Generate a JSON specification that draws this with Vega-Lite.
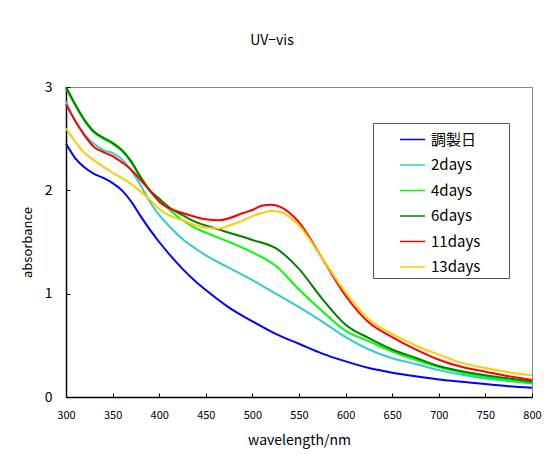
{
  "$schema": "https://vega.github.io/schema/vega-lite/v6.json",
  "width": 466,
  "height": 310,
  "autosize": "none",
  "padding": {"left": 66, "top": 87, "right": 28, "bottom": 57},
  "background": "white",
  "title": {"text": "UV−vis", "fontSize": 14, "fontWeight": "normal", "font": "Noto Sans CJK JP", "anchor": "middle", "dx": -27, "offset": 32, "color": "#000"},
  "config": {
    "view": {"stroke": "#8c8c8c", "strokeWidth": 1},
    "axis": {"grid": false, "domainColor": "#000", "domainWidth": 1.5, "tickColor": "#000", "tickWidth": 1, "labelColor": "#000", "titleColor": "#000", "labelFont": "Noto Sans CJK JP", "titleFont": "Noto Sans CJK JP", "titleFontWeight": "normal", "labelFlush": false, "labelOverlap": false}
  },
  "data": {"values": [
    {"wl":300,"s":"調製日","a":2.45},{"wl":310,"s":"調製日","a":2.31},{"wl":320,"s":"調製日","a":2.22},{"wl":330,"s":"調製日","a":2.16},{"wl":340,"s":"調製日","a":2.12},{"wl":350,"s":"調製日","a":2.07},{"wl":360,"s":"調製日","a":2.0},{"wl":370,"s":"調製日","a":1.89},{"wl":380,"s":"調製日","a":1.75},{"wl":390,"s":"調製日","a":1.62},{"wl":400,"s":"調製日","a":1.5},{"wl":410,"s":"調製日","a":1.39},{"wl":425,"s":"調製日","a":1.24},{"wl":440,"s":"調製日","a":1.11},{"wl":450,"s":"調製日","a":1.035},{"wl":475,"s":"調製日","a":0.865},{"wl":500,"s":"調製日","a":0.732},{"wl":525,"s":"調製日","a":0.61},{"wl":550,"s":"調製日","a":0.515},{"wl":575,"s":"調製日","a":0.42},{"wl":600,"s":"調製日","a":0.345},{"wl":625,"s":"調製日","a":0.28},{"wl":650,"s":"調製日","a":0.235},{"wl":675,"s":"調製日","a":0.2},{"wl":700,"s":"調製日","a":0.17},{"wl":725,"s":"調製日","a":0.148},{"wl":750,"s":"調製日","a":0.125},{"wl":775,"s":"調製日","a":0.105},{"wl":800,"s":"調製日","a":0.09},

    {"wl":300,"s":"2days","a":2.86},{"wl":310,"s":"2days","a":2.67},{"wl":320,"s":"2days","a":2.54},{"wl":330,"s":"2days","a":2.45},{"wl":340,"s":"2days","a":2.39},{"wl":350,"s":"2days","a":2.36},{"wl":360,"s":"2days","a":2.3},{"wl":370,"s":"2days","a":2.19},{"wl":380,"s":"2days","a":2.05},{"wl":390,"s":"2days","a":1.89},{"wl":400,"s":"2days","a":1.76},{"wl":410,"s":"2days","a":1.66},{"wl":425,"s":"2days","a":1.53},{"wl":440,"s":"2days","a":1.43},{"wl":450,"s":"2days","a":1.37},{"wl":475,"s":"2days","a":1.25},{"wl":500,"s":"2days","a":1.13},{"wl":525,"s":"2days","a":1.0},{"wl":550,"s":"2days","a":0.87},{"wl":575,"s":"2days","a":0.73},{"wl":600,"s":"2days","a":0.58},{"wl":625,"s":"2days","a":0.46},{"wl":650,"s":"2days","a":0.375},{"wl":675,"s":"2days","a":0.32},{"wl":700,"s":"2days","a":0.26},{"wl":725,"s":"2days","a":0.215},{"wl":750,"s":"2days","a":0.18},{"wl":775,"s":"2days","a":0.155},{"wl":800,"s":"2days","a":0.13},

    {"wl":300,"s":"4days","a":2.99},{"wl":310,"s":"4days","a":2.82},{"wl":320,"s":"4days","a":2.67},{"wl":330,"s":"4days","a":2.56},{"wl":340,"s":"4days","a":2.5},{"wl":350,"s":"4days","a":2.45},{"wl":360,"s":"4days","a":2.38},{"wl":370,"s":"4days","a":2.27},{"wl":380,"s":"4days","a":2.12},{"wl":390,"s":"4days","a":1.99},{"wl":400,"s":"4days","a":1.9},{"wl":410,"s":"4days","a":1.82},{"wl":425,"s":"4days","a":1.71},{"wl":440,"s":"4days","a":1.63},{"wl":450,"s":"4days","a":1.59},{"wl":475,"s":"4days","a":1.5},{"wl":500,"s":"4days","a":1.4},{"wl":525,"s":"4days","a":1.27},{"wl":550,"s":"4days","a":1.04},{"wl":575,"s":"4days","a":0.83},{"wl":600,"s":"4days","a":0.64},{"wl":625,"s":"4days","a":0.54},{"wl":650,"s":"4days","a":0.44},{"wl":675,"s":"4days","a":0.36},{"wl":700,"s":"4days","a":0.29},{"wl":725,"s":"4days","a":0.235},{"wl":750,"s":"4days","a":0.195},{"wl":775,"s":"4days","a":0.16},{"wl":800,"s":"4days","a":0.135},

    {"wl":300,"s":"6days","a":3.0},{"wl":310,"s":"6days","a":2.83},{"wl":320,"s":"6days","a":2.68},{"wl":330,"s":"6days","a":2.57},{"wl":340,"s":"6days","a":2.51},{"wl":350,"s":"6days","a":2.46},{"wl":360,"s":"6days","a":2.39},{"wl":370,"s":"6days","a":2.28},{"wl":380,"s":"6days","a":2.13},{"wl":390,"s":"6days","a":2.0},{"wl":400,"s":"6days","a":1.92},{"wl":410,"s":"6days","a":1.84},{"wl":425,"s":"6days","a":1.76},{"wl":440,"s":"6days","a":1.69},{"wl":450,"s":"6days","a":1.66},{"wl":475,"s":"6days","a":1.59},{"wl":500,"s":"6days","a":1.52},{"wl":525,"s":"6days","a":1.44},{"wl":550,"s":"6days","a":1.24},{"wl":575,"s":"6days","a":0.95},{"wl":600,"s":"6days","a":0.7},{"wl":625,"s":"6days","a":0.57},{"wl":650,"s":"6days","a":0.46},{"wl":675,"s":"6days","a":0.38},{"wl":700,"s":"6days","a":0.3},{"wl":725,"s":"6days","a":0.25},{"wl":750,"s":"6days","a":0.21},{"wl":775,"s":"6days","a":0.18},{"wl":800,"s":"6days","a":0.15},

    {"wl":300,"s":"11days","a":2.83},{"wl":310,"s":"11days","a":2.67},{"wl":320,"s":"11days","a":2.53},{"wl":330,"s":"11days","a":2.42},{"wl":340,"s":"11days","a":2.37},{"wl":350,"s":"11days","a":2.33},{"wl":360,"s":"11days","a":2.27},{"wl":370,"s":"11days","a":2.2},{"wl":380,"s":"11days","a":2.1},{"wl":390,"s":"11days","a":2.0},{"wl":400,"s":"11days","a":1.89},{"wl":410,"s":"11days","a":1.83},{"wl":425,"s":"11days","a":1.78},{"wl":440,"s":"11days","a":1.74},{"wl":450,"s":"11days","a":1.72},{"wl":465,"s":"11days","a":1.71},{"wl":475,"s":"11days","a":1.73},{"wl":490,"s":"11days","a":1.78},{"wl":500,"s":"11days","a":1.81},{"wl":510,"s":"11days","a":1.85},{"wl":520,"s":"11days","a":1.86},{"wl":530,"s":"11days","a":1.84},{"wl":540,"s":"11days","a":1.78},{"wl":550,"s":"11days","a":1.69},{"wl":575,"s":"11days","a":1.34},{"wl":600,"s":"11days","a":0.98},{"wl":625,"s":"11days","a":0.72},{"wl":650,"s":"11days","a":0.58},{"wl":675,"s":"11days","a":0.46},{"wl":700,"s":"11days","a":0.36},{"wl":725,"s":"11days","a":0.29},{"wl":750,"s":"11days","a":0.245},{"wl":775,"s":"11days","a":0.2},{"wl":800,"s":"11days","a":0.165},

    {"wl":300,"s":"13days","a":2.6},{"wl":310,"s":"13days","a":2.47},{"wl":320,"s":"13days","a":2.36},{"wl":330,"s":"13days","a":2.29},{"wl":340,"s":"13days","a":2.23},{"wl":350,"s":"13days","a":2.17},{"wl":360,"s":"13days","a":2.12},{"wl":370,"s":"13days","a":2.06},{"wl":380,"s":"13days","a":1.99},{"wl":390,"s":"13days","a":1.91},{"wl":400,"s":"13days","a":1.82},{"wl":410,"s":"13days","a":1.76},{"wl":425,"s":"13days","a":1.71},{"wl":440,"s":"13days","a":1.66},{"wl":450,"s":"13days","a":1.64},{"wl":465,"s":"13days","a":1.63},{"wl":475,"s":"13days","a":1.66},{"wl":490,"s":"13days","a":1.71},{"wl":500,"s":"13days","a":1.75},{"wl":510,"s":"13days","a":1.78},{"wl":520,"s":"13days","a":1.8},{"wl":530,"s":"13days","a":1.79},{"wl":540,"s":"13days","a":1.74},{"wl":550,"s":"13days","a":1.66},{"wl":575,"s":"13days","a":1.34},{"wl":600,"s":"13days","a":1.01},{"wl":625,"s":"13days","a":0.75},{"wl":650,"s":"13days","a":0.61},{"wl":675,"s":"13days","a":0.5},{"wl":700,"s":"13days","a":0.41},{"wl":725,"s":"13days","a":0.33},{"wl":750,"s":"13days","a":0.28},{"wl":775,"s":"13days","a":0.24},{"wl":800,"s":"13days","a":0.21}
  ]},
  "mark": {"type": "line", "strokeWidth": 2, "interpolate": "monotone"},
  "encoding": {
    "x": {"field": "wl", "type": "quantitative", "scale": {"domain": [300, 800], "nice": false},
      "axis": {"values": [300,350,400,450,500,550,600,650,700,750,800], "title": "wavelength/nm", "titleFontSize": 14, "labelFontSize": 11, "tickSize": -4, "labelPadding": 16, "titlePadding": 13}},
    "y": {"field": "a", "type": "quantitative", "scale": {"domain": [0, 3], "nice": false},
      "axis": {"values": [0,1,2,3], "title": "absorbance", "titleFontSize": 13, "labelFontSize": 14, "tickSize": -4, "labelPadding": 18, "titlePadding": 10}},
    "color": {"field": "s", "type": "nominal", "sort": ["調製日","2days","4days","6days","11days","13days"],
      "scale": {"domain": ["調製日","2days","4days","6days","11days","13days"], "range": ["#0000FF","#33CCCC","#00FF00","#008000","#FF0000","#FFCC00"]},
      "legend": {"title": "\u2800\u2800", "titleOrient": "right", "titleFontSize": 15, "titlePadding": 2, "titleFont": "DejaVu Sans", "orient": "none", "legendX": 307, "legendY": 36, "strokeColor": "#555", "fillColor": "white", "padding": 3, "symbolType": "stroke", "symbolSize": 625, "symbolStrokeWidth": 1.5, "symbolOffset": 23, "labelOffset": 5, "rowPadding": 3.5, "labelFontSize": 15, "labelFont": "Noto Sans CJK JP", "labelColor": "#000"}},
    "order": {"field": "s"}
  }
}
